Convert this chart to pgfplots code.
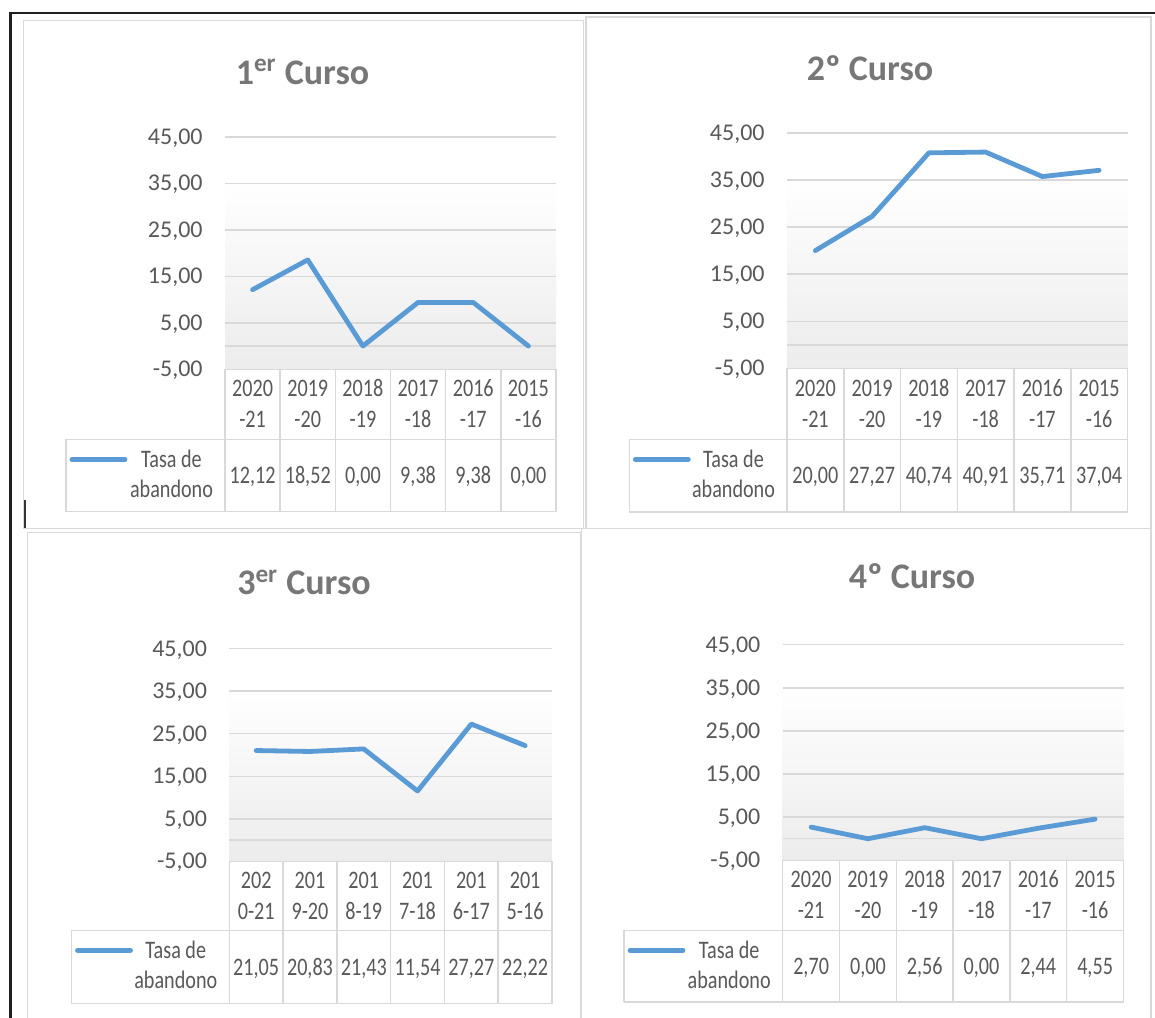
\documentclass[border=0pt]{standalone}
\usepackage{pgfplots}
\pgfplotsset{compat=1.18}
\usepackage{fontspec}
\setmainfont{Carlito}
\newfontfamily\tabfont[FakeStretch=0.8]{Carlito}
\definecolor{exblue}{HTML}{5B9BD5}
\definecolor{gridc}{HTML}{D9D9D9}
\definecolor{txt}{HTML}{595959}
\definecolor{ttl}{HTML}{777777}
\definecolor{bgbot}{HTML}{ECECEC}
\pgfdeclareverticalshading{plotbg}{100bp}{color(0bp)=(bgbot); color(25bp)=(bgbot); color(66bp)=(white); color(100bp)=(white)}
\pgfkeys{/pgf/number format/.cd, fixed, fixed zerofill, precision=2, use comma, 1000 sep={}, assume math mode=true}

\pgfplotsset{chart/.style={
  scale only axis, anchor=south west,
  xmin=-0.5, xmax=5.5, ymin=-5, ymax=45,
  ytick={-5,5,15,25,35,45}, xtick=\empty,
  extra y ticks={0}, extra y tick labels={}, extra y tick style={grid=major},
  ymajorgrids, grid style={draw=gridc, line width=0.75pt},
  axis line style={draw=none}, tick style={draw=none}, major tick length=0pt,
  scaled y ticks=false,
  yticklabel={\pgfmathprintnumber{\tick}},
  yticklabel style={font=\fontsize{12pt}{13pt}\selectfont, text=txt, anchor=base east, inner sep=0pt, xshift=-11pt, yshift=-3.8pt,
    /pgf/number format/fixed, /pgf/number format/fixed zerofill, /pgf/number format/precision=2,
    /pgf/number format/use comma, /pgf/number format/assume math mode=true},
  axis background/.style={shading=plotbg},
  clip=false,
}}
\tikzset{
  tbl/.style={draw=gridc, line width=0.75pt},
  panel/.style={draw=gridc, line width=0.75pt},
  tabtxt/.style={font=\tabfont\fontsize{12.6pt}{14pt}\selectfont, text=txt, inner sep=0pt},
  ttlstyle/.style={font=\fontsize{18pt}{20pt}\selectfont\bfseries, text=ttl, anchor=base, inner sep=0pt},
  dataline/.style={exblue, line width=2.4pt, line join=round, line cap=round},
}

% #1 xa  #2 xb  #3 yb(-5)  #4 yc (category row bottom)  #5 yl (legend bottom)  #6 legend left
% #7 values  #8 category line 1  #9 category line 2   (pixel units, y from top)
\newcommand\drawtable[9]{%
  \pgfmathsetmacro\cw{(#2-#1)/6}%
  \pgfmathsetmacro\ycc{1017-(#3+#4)/2}%
  \pgfmathsetmacro\ylc{1017-(#4+#5)/2}%
  \draw[tbl] (#6,{1017-#4}) -- (#2,{1017-#4});
  \draw[tbl] (#6,{1017-#5}) -- (#2,{1017-#5});
  \draw[tbl] (#6,{1017-#4}) -- (#6,{1017-#5});
  \draw[tbl] (#1,{1017-#3}) -- (#2,{1017-#3});
  \foreach \k in {0,...,6} {\draw[tbl] ({#1+\k*\cw},{1017-#3}) -- ({#1+\k*\cw},{1017-#5});}
  \draw[exblue, line width=2.4pt, line cap=round] ({#6+6},{1017-#4-20}) -- ({#6+59},{1017-#4-20});
  \node[tabtxt, anchor=base] at ({#1-53.5},{1017-#4-20-8}) {Tasa de};
  \node[tabtxt, anchor=base] at ({#1-53.5},{1017-#4-50-8}) {abandono};
  \foreach \v [count=\k from 0] in {#7} {\node[tabtxt,anchor=base] at ({#1+(\k+0.5)*\cw},{\ylc-8}) {\pgfmathprintnumber{\v}};}
  \foreach \v [count=\k from 0] in {#8} {\node[tabtxt,anchor=base] at ({#1+(\k+0.5)*\cw},{\ycc+15.5-8}) {\v};}
  \foreach \v [count=\k from 0] in {#9} {\node[tabtxt,anchor=base] at ({#1+(\k+0.5)*\cw},{\ycc-15.5-8}) {\v};}
}

\begin{document}
\begin{tikzpicture}[x=0.5pt,y=0.5pt]
\useasboundingbox (0,0) rectangle (1155,1017);
\fill[white] (0,0) rectangle (1155,1017);

% panels
\draw[panel] (23.3,996.3) rectangle (583.3,488.7);
\draw[panel] (586,1000) rectangle (1151,488.7);
\draw[panel] (27.7,484.3) rectangle (581,-10);
\draw[panel] (581.7,488.7) rectangle (1151,-10);

% outer frame and cursor mark
\draw[black!88, line width=1.2pt] (10.3,-10) -- (10.3,1003.7) -- (1165,1003.7);
\draw[black!80, line width=1pt] (24.5,517) -- (24.5,489);

% ---------- 1er Curso ----------
\node[ttlstyle] at (302.5,932.7) {1\textsuperscript{er} Curso};
\begin{axis}[chart, at={(112.5pt,323.85pt)}, width=165.5pt, height=116.25pt]
\addplot[dataline] coordinates {(0,12.12) (1,18.52) (2,0) (3,9.38) (4,9.38) (5,0)};
\end{axis}
\drawtable{225}{556}{369.3}{439.4}{511.7}{66}{12.12,18.52,0,9.38,9.38,0}{2020,2019,2018,2017,2016,2015}{-21,-20,-19,-18,-17,-16}

% ---------- 2º Curso ----------
\node[ttlstyle] at (870,936) {2º Curso};
\begin{axis}[chart, at={(393.5pt,324.3pt)}, width=170.25pt, height=117.8pt]
\addplot[dataline] coordinates {(0,20.00) (1,27.27) (2,40.74) (3,40.91) (4,35.71) (5,37.04)};
\end{axis}
\drawtable{787}{1127.5}{368.4}{439.4}{512}{629.3}{20.00,27.27,40.74,40.91,35.71,37.04}{2020,2019,2018,2017,2016,2015}{-21,-20,-19,-18,-17,-16}

% ---------- 3er Curso ----------
\node[ttlstyle] at (304,422) {3\textsuperscript{er} Curso};
\begin{axis}[chart, at={(114.65pt,77.85pt)}, width=161.35pt, height=106.3pt]
\addplot[dataline] coordinates {(0,21.05) (1,20.83) (2,21.43) (3,11.54) (4,27.27) (5,22.22)};
\end{axis}
\drawtable{229.3}{552}{861.3}{930.3}{1003.7}{71.5}{21.05,20.83,21.43,11.54,27.27,22.22}{202,201,201,201,201,201}{0-21,9-20,8-19,7-18,6-17,5-16}

% ---------- 4º Curso ----------
\node[ttlstyle] at (912,428) {4º Curso};
\begin{axis}[chart, at={(391.35pt,78.35pt)}, width=170.4pt, height=107.8pt]
\addplot[dataline] coordinates {(0,2.70) (1,0.00) (2,2.56) (3,0.00) (4,2.44) (5,4.55)};
\end{axis}
\drawtable{782.7}{1123.5}{860.3}{930.3}{1002}{624}{2.70,0.00,2.56,0.00,2.44,4.55}{2020,2019,2018,2017,2016,2015}{-21,-20,-19,-18,-17,-16}

\end{tikzpicture}
\end{document}
